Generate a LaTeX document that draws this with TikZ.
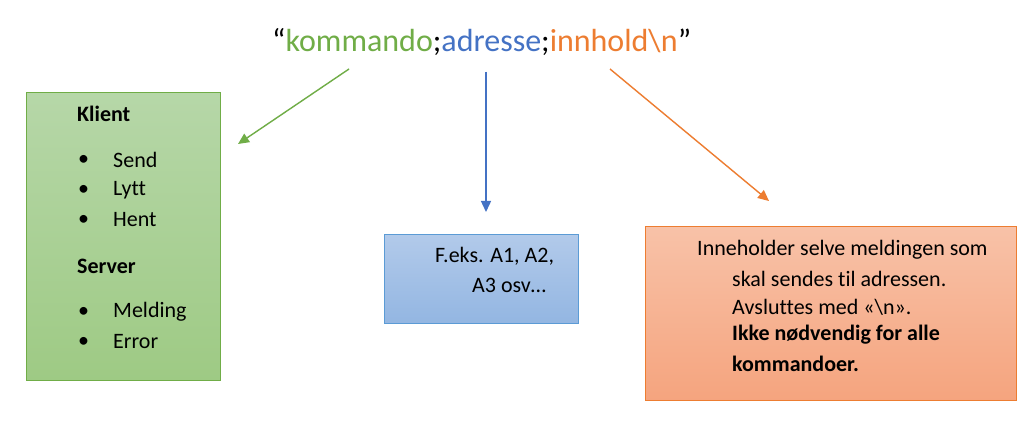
\documentclass[tikz,border=0pt]{standalone}
\usepackage{fontspec}
\setmainfont{Carlito}[Ligatures=NoCommon]
\usetikzlibrary{arrows.meta}
\definecolor{cgreen}{HTML}{70AD47}
\definecolor{cblue}{HTML}{4472C4}
\definecolor{corange}{HTML}{ED7D31}
\definecolor{gtop}{RGB}{182,215,168}
\definecolor{gbot}{RGB}{158,202,132}
\definecolor{btop}{RGB}{178,202,234}
\definecolor{bbot}{RGB}{147,182,226}
\definecolor{bline}{HTML}{5B9BD5}
\definecolor{otop}{RGB}{248,194,168}
\definecolor{obot}{RGB}{245,164,126}
\begin{document}
\begin{tikzpicture}[x=1pt,y=-1pt,
  txt/.style={inner sep=0pt, anchor=west, font=\fontsize{22}{26}\selectfont},
  btxt/.style={txt, font=\fontsize{22}{26}\selectfont\bfseries},
  box/.style={anchor=north west, inner sep=0pt, line width=1pt},
  arr/.style={line width=1.4pt, -{Triangle[length=11pt,width=10pt]}}]
\useasboundingbox (0,0) rectangle (1035,435);
\fill[white] (0,0) rectangle (1035,435);
% title
\node[inner sep=0pt, anchor=west, font=\fontsize{32}{38}\selectfont] (title) at (272,42)
  {“\textcolor{cgreen}{kommando};\textcolor{cblue}{adresse};\textcolor{corange}{innhold\textbackslash n}”};
% boxes
\node[box, draw=cgreen, top color=gtop, bottom color=gbot, minimum width=194pt, minimum height=288pt] (klient) at (26,92) {};
\node[box, draw=bline, top color=btop, bottom color=bbot, minimum width=194pt, minimum height=89pt] (adr) at (384,234) {};
\node[box, draw=corange, top color=otop, bottom color=obot, minimum width=371pt, minimum height=174pt] (innh) at (645,226) {};
% green box text
\node[btxt] (kl) at (77,114) {Klient};
\node[txt] (b1) at (78,160) {•};
\node[txt] (t1) at (113,160) {Send};
\node[txt] (b2) at (78,190) {•};
\node[txt] (t2) at (113,190) {Lytt};
\node[txt] (b3) at (78,220) {•};
\node[txt] (t3) at (113,220) {Hent};
\node[btxt] (sv) at (77,266) {Server};
\node[txt] (b4) at (78,312) {•};
\node[txt] (t4) at (113,312) {Melding};
\node[txt] (b5) at (78,342) {•};
\node[txt] (t5) at (113,342) {Error};
% blue box text
\node[txt] (a1) at (435,256) {F.eks. A1, A2,};
\node[txt] (a2) at (472,285) {A3 osv…};
% orange box text
\node[txt] (o1) at (697,250) {Inneholder selve meldingen som};
\node[txt] (o2) at (732,279) {skal sendes til adressen.};
\node[txt] (o3) at (732,307) {Avsluttes med «\textbackslash n».};
\node[btxt] (o4) at (732,335) {Ikke nødvendig for alle};
\node[btxt] (o5) at (732,364) {kommandoer.};
% arrows
\coordinate (g1) at (349,69);
\coordinate (g2) at (238,144);
\coordinate (u1) at (486,72);
\coordinate (u2) at (486,212);
\coordinate (r1) at (610,69);
\coordinate (r2) at (769,201);
\draw[arr, draw=cgreen, fill=cgreen] (g1) -- (g2);
\draw[arr, draw=cblue, fill=cblue] (u1) -- (u2);
\draw[arr, draw=corange, fill=corange] (r1) -- (r2);
\end{tikzpicture}
\end{document}
